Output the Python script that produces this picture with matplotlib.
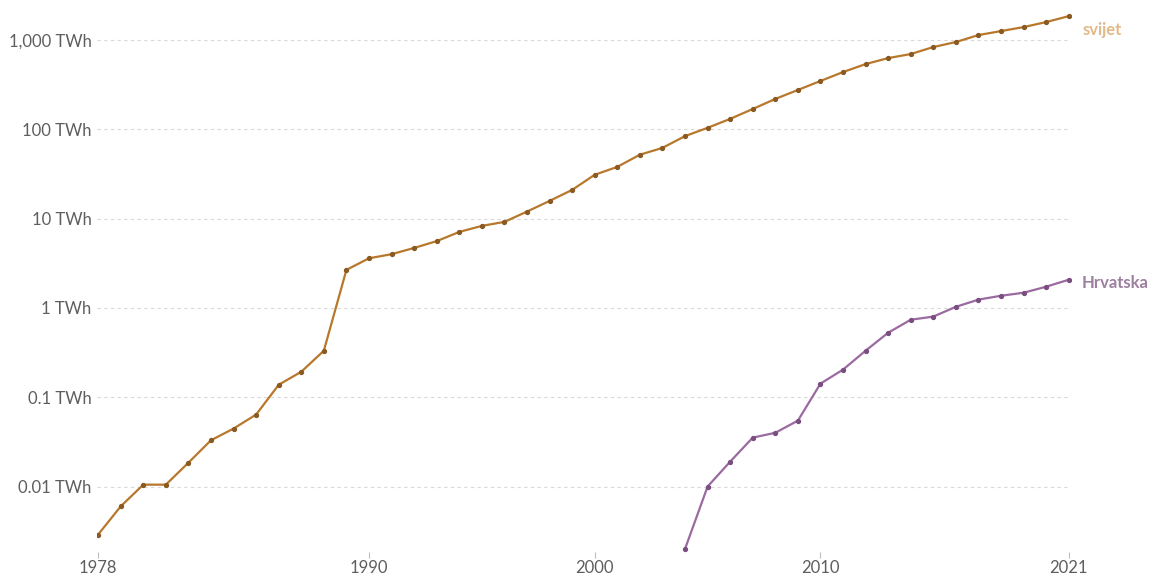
import matplotlib
matplotlib.use("Agg")
import matplotlib.pyplot as plt
from matplotlib.ticker import FixedLocator, FixedFormatter, NullLocator

# ── DATA ──────────────────────────────────────────────────────
years_world = list(range(1978, 2022))
svijet = [0.0029, 0.006, 0.0105, 0.0105, 0.0185, 0.033, 0.0446, 0.064,
          0.138, 0.193, 0.332, 2.67, 3.6, 4.0, 4.7, 5.6, 7.1, 8.3, 9.2,
          12.0, 15.8, 21.0, 31.0, 38.0, 52.0, 62.0, 84.0, 104.0, 131.0,
          169.0, 219.0, 276.0, 348.0, 438.0, 538.0, 628.0, 697.0, 835.0,
          950.0, 1137.0, 1260.0, 1397.0, 1590.0, 1853.0]

years_hr = list(range(2004, 2022))
hrvatska = [0.002, 0.01, 0.019, 0.0353, 0.040, 0.0547, 0.142, 0.204,
            0.332, 0.528, 0.738, 0.80, 1.03, 1.24, 1.37, 1.48, 1.73, 2.07]

y_ticks = [0.01, 0.1, 1, 10, 100, 1000]
y_tick_labels = ["0.01 TWh", "0.1 TWh", "1 TWh", "10 TWh", "100 TWh", "1,000 TWh"]
x_ticks = [1978, 1990, 2000, 2010, 2021]

WORLD_COL = "#b8782c"
WORLD_DOT = "#8a5a22"
WORLD_TXT = "#e2b98a"
HR_COL = "#9a6aa0"
HR_DOT = "#7a4f80"
HR_TXT = "#9d7f9f"

plt.rcParams["font.family"] = ["Lato", "DejaVu Sans"]

# ── PLOT ──────────────────────────────────────────────────────
fig = plt.figure(figsize=(11.55, 5.77), dpi=100)
fig.patch.set_facecolor("white")
ax = fig.add_axes([97 / 1155, 1 - 552 / 577, (1071 - 97) / 1155, (552 - 10) / 577])

ax.plot(years_world, svijet, color=WORLD_COL, lw=1.6, marker="o", ms=2.8,
        mfc=WORLD_DOT, mec=WORLD_DOT, zorder=3)
ax.plot(years_hr, hrvatska, color=HR_COL, lw=1.6, marker="o", ms=2.8,
        mfc=HR_DOT, mec=HR_DOT, zorder=3)

ax.set_yscale("log")
ax.set_xlim(1977.95, 2021.1)
ax.set_ylim(0.00185, 2170)

ax.yaxis.set_major_locator(FixedLocator(y_ticks))
ax.yaxis.set_major_formatter(FixedFormatter(y_tick_labels))
ax.yaxis.set_minor_locator(NullLocator())
ax.set_xticks(x_ticks)
ax.set_xticklabels([str(y) for y in x_ticks])

ax.tick_params(axis="y", length=0, pad=4, labelsize=12, labelcolor="#5e5e5e")
ax.tick_params(axis="x", length=4, width=0.8, color="#bdbdbd", pad=2,
               labelsize=12, labelcolor="#5e5e5e")

ax.grid(axis="y", color="#d9d9d9", lw=0.8, linestyle=(0, (3, 3)))
ax.set_axisbelow(True)
for s in ax.spines.values():
    s.set_visible(False)

# series labels at the line ends
ax.annotate("svijet", xy=(years_world[-1], svijet[-1]), xytext=(10, -10),
            textcoords="offset points", ha="left", va="center",
            fontsize=12, fontweight="bold", color=WORLD_TXT)
ax.annotate("Hrvatska", xy=(years_hr[-1], hrvatska[-1]), xytext=(9.5, -2.5),
            textcoords="offset points", ha="left", va="center",
            fontsize=12, fontweight="bold", color=HR_TXT)

fig.savefig("out.png", dpi=100, facecolor="white")
